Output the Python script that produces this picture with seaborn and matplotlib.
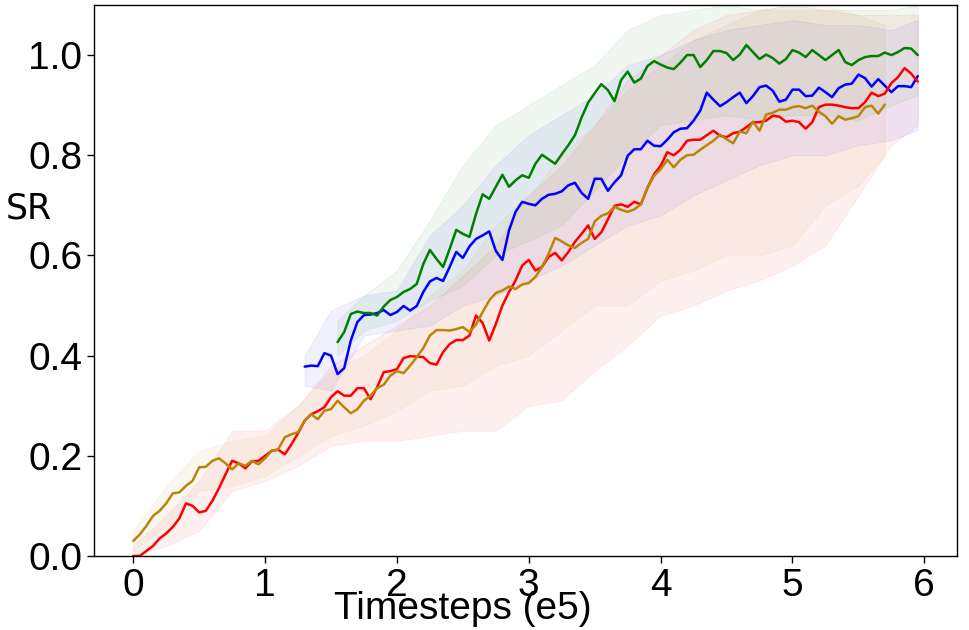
import numpy as np
import pandas as pd
import matplotlib
matplotlib.use("Agg")
import matplotlib.pyplot as plt
import seaborn as sns

# evaluation every 0.05 (x1e5 timesteps), mean success rate per method
step = 0.05

red_start = 0.0
red_sr = [
    0.000, 0.000, 0.010, 0.020, 0.035, 0.045, 0.058, 0.075, 0.105, 0.100,
    0.087, 0.090, 0.110, 0.135, 0.163, 0.190, 0.185, 0.175, 0.189, 0.190,
    0.200, 0.210, 0.212, 0.203, 0.223, 0.245, 0.270, 0.283, 0.289, 0.297,
    0.317, 0.329, 0.320, 0.320, 0.335, 0.335, 0.313, 0.337, 0.367, 0.369,
    0.373, 0.395, 0.399, 0.398, 0.397, 0.385, 0.382, 0.407, 0.423, 0.431,
    0.431, 0.440, 0.480, 0.465, 0.430, 0.463, 0.500, 0.527, 0.550, 0.580,
    0.591, 0.570, 0.577, 0.597, 0.605, 0.590, 0.607, 0.627, 0.643, 0.660,
    0.633, 0.646, 0.672, 0.699, 0.702, 0.697, 0.707, 0.702, 0.735, 0.762,
    0.779, 0.806, 0.800, 0.811, 0.829, 0.831, 0.831, 0.840, 0.849, 0.839,
    0.836, 0.844, 0.847, 0.856, 0.866, 0.866, 0.869, 0.879, 0.877, 0.867,
    0.869, 0.866, 0.853, 0.866, 0.896, 0.901, 0.901, 0.899, 0.896, 0.894,
    0.894, 0.906, 0.925, 0.918, 0.923, 0.944, 0.956, 0.974, 0.963, 0.947,
]

gold_start = 0.0
gold_sr = [
    0.030, 0.043, 0.060, 0.080, 0.090, 0.105, 0.125, 0.127, 0.140, 0.150,
    0.177, 0.178, 0.190, 0.195, 0.185, 0.173, 0.185, 0.180, 0.190, 0.183,
    0.195, 0.210, 0.213, 0.237, 0.243, 0.247, 0.270, 0.283, 0.273, 0.290,
    0.293, 0.310, 0.297, 0.285, 0.293, 0.310, 0.320, 0.335, 0.342, 0.360,
    0.369, 0.365, 0.380, 0.397, 0.415, 0.440, 0.451, 0.451, 0.450, 0.453,
    0.457, 0.447, 0.462, 0.487, 0.510, 0.525, 0.530, 0.538, 0.533, 0.542,
    0.545, 0.557, 0.577, 0.603, 0.635, 0.628, 0.620, 0.615, 0.625, 0.633,
    0.668, 0.679, 0.684, 0.697, 0.691, 0.687, 0.692, 0.702, 0.735, 0.759,
    0.772, 0.791, 0.776, 0.791, 0.800, 0.801, 0.811, 0.820, 0.829, 0.841,
    0.832, 0.824, 0.847, 0.844, 0.867, 0.849, 0.881, 0.885, 0.891, 0.891,
    0.896, 0.898, 0.894, 0.899, 0.887, 0.878, 0.863, 0.878, 0.871, 0.874,
    0.878, 0.896, 0.899, 0.883, 0.901,
]

blue_start = 1.30
blue_sr = [
    0.378, 0.380, 0.379, 0.405, 0.400, 0.363, 0.375, 0.430, 0.467, 0.481,
    0.482, 0.485, 0.491, 0.481,
    0.487, 0.499, 0.490, 0.499, 0.527, 0.548, 0.555, 0.549, 0.577, 0.607,
    0.595, 0.618, 0.633, 0.640, 0.648, 0.609, 0.591, 0.650, 0.687, 0.707,
    0.703, 0.700, 0.713, 0.721, 0.723, 0.728, 0.740, 0.745, 0.725, 0.713,
    0.753, 0.753, 0.729, 0.746, 0.760, 0.799, 0.812, 0.812, 0.829, 0.819,
    0.818, 0.831, 0.846, 0.853, 0.854, 0.869, 0.889, 0.925, 0.911, 0.898,
    0.906, 0.916, 0.925, 0.904, 0.918, 0.936, 0.939, 0.929, 0.907, 0.911,
    0.931, 0.931, 0.918, 0.919, 0.935, 0.926, 0.916, 0.934, 0.941, 0.943,
    0.961, 0.954, 0.937, 0.952, 0.939, 0.926, 0.938, 0.938, 0.936, 0.958,
]

green_start = 1.55
green_sr = [
    0.427, 0.447, 0.483, 0.488, 0.485, 0.485, 0.480, 0.498, 0.511,
    0.517, 0.527, 0.533, 0.543, 0.583, 0.611, 0.593, 0.577, 0.613, 0.651,
    0.643, 0.637, 0.683, 0.722, 0.713, 0.737, 0.761, 0.737, 0.750, 0.760,
    0.755, 0.783, 0.801, 0.792, 0.783, 0.802, 0.820, 0.840, 0.875, 0.905,
    0.924, 0.942, 0.930, 0.908, 0.950, 0.967, 0.945, 0.953, 0.978, 0.988,
    0.981, 0.975, 0.972, 0.985, 1.000, 1.000, 0.976, 0.990, 1.008, 1.008,
    1.004, 0.990, 1.001, 1.020, 1.006, 0.992, 1.001, 0.994, 0.983, 0.992,
    1.010, 1.005, 0.996, 1.010, 1.000, 0.990, 1.000, 1.010, 0.986, 0.980,
    0.990, 0.996, 0.998, 0.998, 1.005, 1.000, 1.006, 1.014, 1.013, 1.000,
]

# spread across seeds (lower / upper envelope)
red_band_t = [0.0, 0.25, 0.5, 0.75, 1.0, 1.25, 1.5, 1.75, 2.0, 2.25, 2.5, 2.75, 3.0,
              3.25, 3.5, 3.75, 4.0, 4.25, 4.5, 4.75, 5.0, 5.25, 5.5, 5.75, 5.95]
red_lo = [0.00, 0.02, 0.05, 0.13, 0.15, 0.18, 0.22, 0.23, 0.23, 0.24, 0.25, 0.25, 0.30,
          0.31, 0.37, 0.42, 0.48, 0.50, 0.53, 0.55, 0.58, 0.62, 0.72, 0.82, 0.86]
red_hi = [0.02, 0.08, 0.15, 0.25, 0.25, 0.30, 0.38, 0.42, 0.46, 0.50, 0.56, 0.62, 0.72,
          0.78, 0.86, 0.95, 1.00, 1.05, 1.08, 1.09, 1.09, 1.09, 1.08, 1.08, 1.08]

gold_band_t = [0.0, 0.25, 0.5, 0.75, 1.0, 1.25, 1.5, 1.75, 2.0, 2.25, 2.5, 2.75, 3.0,
               3.25, 3.5, 3.75, 4.0, 4.25, 4.5, 4.75, 5.0, 5.25, 5.5, 5.70]
gold_lo = [0.01, 0.06, 0.13, 0.14, 0.16, 0.20, 0.24, 0.26, 0.29, 0.33, 0.34, 0.38, 0.40,
           0.45, 0.50, 0.50, 0.55, 0.57, 0.60, 0.60, 0.62, 0.70, 0.74, 0.80]
gold_hi = [0.05, 0.14, 0.21, 0.23, 0.24, 0.30, 0.37, 0.40, 0.45, 0.52, 0.57, 0.66, 0.72,
           0.80, 0.86, 0.93, 0.98, 1.03, 1.06, 1.09, 1.10, 1.10, 1.08, 1.06]

blue_band_t = [1.30, 1.50, 1.75, 2.0, 2.25, 2.5, 2.75, 3.0, 3.25, 3.5, 3.75, 4.0,
               4.25, 4.5, 4.75, 5.0, 5.25, 5.5, 5.75, 5.95]
blue_lo = [0.34, 0.33, 0.44, 0.45, 0.46, 0.50, 0.52, 0.55, 0.58, 0.62, 0.66, 0.68,
           0.72, 0.75, 0.78, 0.80, 0.80, 0.82, 0.83, 0.85]
blue_hi = [0.40, 0.49, 0.52, 0.53, 0.64, 0.70, 0.78, 0.84, 0.88, 0.92, 0.98, 1.00,
           1.03, 1.05, 1.06, 1.07, 1.06, 1.06, 1.05, 1.07]

green_band_t = [1.55, 1.75, 2.0, 2.25, 2.5, 2.75, 3.0, 3.25, 3.5, 3.75, 4.0, 4.25,
                4.5, 4.75, 5.0, 5.25, 5.5, 5.75, 5.95]
green_lo = [0.40, 0.45, 0.47, 0.51, 0.54, 0.60, 0.63, 0.66, 0.73, 0.80, 0.86, 0.87,
            0.88, 0.87, 0.88, 0.88, 0.87, 0.90, 0.92]
green_hi = [0.47, 0.52, 0.57, 0.67, 0.78, 0.86, 0.90, 0.94, 0.98, 1.05, 1.08, 1.09,
            1.10, 1.09, 1.10, 1.09, 1.09, 1.09, 1.10]

methods = [
    ("blue", blue_start, blue_sr, blue_band_t, blue_lo, blue_hi),
    ("green", green_start, green_sr, green_band_t, green_lo, green_hi),
    ("red", red_start, red_sr, red_band_t, red_lo, red_hi),
    ("darkgoldenrod", gold_start, gold_sr, gold_band_t, gold_lo, gold_hi),
]

sns.set_style("ticks")
plt.rcParams["font.family"] = ["Liberation Sans", "DejaVu Sans"]
plt.rcParams["text.color"] = "black"
plt.rcParams["axes.labelcolor"] = "black"

fig, ax = plt.subplots(figsize=(9.69, 6.30), dpi=100)
ax.set_position([0.097, 0.1175, 0.8906, 0.8746])

# shaded spread first
for color, start, sr, bt, lo, hi in methods:
    ax.fill_between(bt, lo, hi, color=color, alpha=0.06, linewidth=0.8)

for color, start, sr, bt, lo, hi in methods:
    df = pd.DataFrame({"t": start + step * np.arange(len(sr)), "sr": sr})
    sns.lineplot(data=df, x="t", y="sr", color=color, linewidth=1.8, ax=ax)

ax.set_xlim(-0.2975, 6.2475)
ax.set_ylim(0, 1.1)
ax.set_xticks(range(7))
ax.set_yticks([0.0, 0.2, 0.4, 0.6, 0.8, 1.0])
ax.set_yticklabels(["0.0", "0.2", "0.4", "0.6", "0.8", "1.0"])
ax.tick_params(labelsize=28, length=5, width=1, colors="black")

for side in ["top", "right", "bottom", "left"]:
    ax.spines[side].set_visible(True)
    ax.spines[side].set_color("black")
    ax.spines[side].set_linewidth(1)

ax.set_xlabel("Timesteps (e5)", fontsize=28, va="center", color="black")
ax.xaxis.set_label_coords(0.4276, -0.097)
ax.set_ylabel("SR", rotation=0, fontsize=25, family="DejaVu Sans",
              va="center", ha="center", color="black")
ax.yaxis.set_label_coords(-0.075, 0.63)

fig.savefig("out.png", dpi=100)
